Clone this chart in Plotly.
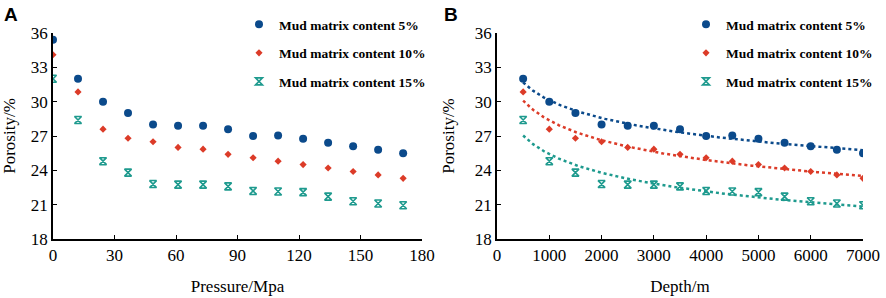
import numpy as np
import plotly.graph_objects as go

# ---- data ----
pressure = [0, 12.2, 24.4, 36.6, 48.8, 61.0, 73.2, 85.4, 97.6, 109.8, 122.0, 134.2, 146.4, 158.6, 170.8]
depth = [500, 1000, 1500, 2000, 2500, 3000, 3500, 4000, 4500, 5000, 5500, 6000, 6500, 7000]

a_5 = [35.4, 32.0, 30.0, 29.0, 28.0, 27.9, 27.9, 27.6, 27.0, 27.05, 26.75, 26.4, 26.1, 25.8, 25.5]
a_10 = [34.1, 30.85, 27.6, 26.8, 26.5, 26.0, 25.85, 25.4, 25.1, 24.8, 24.5, 24.2, 23.9, 23.6, 23.3]
a_15 = [32.0, 28.4, 24.8, 23.8, 22.8, 22.75, 22.75, 22.6, 22.2, 22.15, 22.1, 21.7, 21.3, 21.1, 20.95]

b_5 = a_5[1:]
b_10 = a_10[1:]
b_15 = a_15[1:]

names = ["Mud matrix content 5%", "Mud matrix content 10%", "Mud matrix content 15%"]
colors = ["#0b4a8b", "#dc3b28", "#1e9a8e"]
symbols = ["circle", "diamond", "hourglass-open"]
sizes = [8, 5.5, 7]

y_ticks = [18, 21, 24, 27, 30, 33, 36]
xa_ticks = [0, 30, 60, 90, 120, 150, 180]
xb_ticks = [0, 1000, 2000, 3000, 4000, 5000, 6000, 7000]

W, H = 886, 298
serif = "Liberation Serif"

fig = go.Figure()

def mk(i):
    m = dict(color=colors[i], size=sizes[i], symbol=symbols[i])
    if symbols[i].endswith("open"):
        m["line"] = dict(color=colors[i], width=1.6)
    return m

for i, ys in enumerate([a_5, a_10, a_15]):
    fig.add_trace(go.Scatter(x=pressure, y=ys, mode="markers", marker=mk(i),
                             name=names[i], legend="legend", legendgroup="a%d" % i,
                             xaxis="x", yaxis="y"))

dfine = np.linspace(min(depth), max(depth), 200)
for i, ys in enumerate([b_5, b_10, b_15]):
    fig.add_trace(go.Scatter(x=depth, y=ys, mode="markers", marker=mk(i),
                             name=names[i], legend="legend2", legendgroup="b%d" % i,
                             xaxis="x2", yaxis="y2"))
    k, c = np.polyfit(np.log(depth), ys, 1)
    fig.add_trace(go.Scatter(x=dfine, y=k * np.log(dfine) + c, mode="lines",
                             line=dict(color=colors[i], width=2.5, dash="dot"),
                             showlegend=False, hoverinfo="skip",
                             xaxis="x2", yaxis="y2"))

def px_x(p):
    return p / W

def px_y(p):
    return 1 - p / H

axis_common = dict(showline=True, linecolor="black", linewidth=1.5, ticks="inside",
                   ticklen=4, tickwidth=1.3, tickcolor="black", showgrid=False,
                   zeroline=False, mirror=False, automargin=False,
                   tickfont=dict(family=serif, size=17, color="black"))

title_font = dict(family=serif, size=17, color="black")
legend_font = dict(family=serif, size=13.5, color="black", weight="bold")

fig.update_layout(
    width=W, height=H, margin=dict(l=0, r=0, t=0, b=0, autoexpand=False),
    paper_bgcolor="white", plot_bgcolor="white",
    showlegend=True,
    font=dict(family=serif),
    xaxis=dict(domain=[px_x(53), px_x(422)], range=[0, 180], tickvals=xa_ticks,
               title=dict(text="Pressure/Mpa", font=title_font, standoff=16),
               anchor="y", **axis_common),
    yaxis=dict(domain=[px_y(239), px_y(33)], range=[18, 36], tickvals=y_ticks,
               title=dict(text="Porosity/%", font=title_font, standoff=29),
               anchor="x", **axis_common),
    xaxis2=dict(domain=[px_x(497), px_x(863)], range=[0, 7000], tickvals=xb_ticks,
                title=dict(text="Depth/m", font=title_font, standoff=16),
                anchor="y2", **axis_common),
    yaxis2=dict(domain=[px_y(239), px_y(33)], range=[18, 36], tickvals=y_ticks,
                title=dict(text="Porosity/%", font=title_font, standoff=16),
                anchor="x2", **axis_common),
    legend=dict(x=px_x(239), y=px_y(9), xanchor="left", yanchor="top",
                font=legend_font,
                bgcolor="rgba(0,0,0,0)", tracegroupgap=8, itemwidth=30),
    legend2=dict(x=px_x(686), y=px_y(9), xanchor="left", yanchor="top",
                 font=legend_font,
                 bgcolor="rgba(0,0,0,0)", tracegroupgap=8, itemwidth=30),
    annotations=[
        dict(text="<b>A</b>", x=px_x(2), y=px_y(2), xref="paper", yref="paper",
             xanchor="left", yanchor="top", showarrow=False,
             font=dict(family="Liberation Sans", size=19, color="black")),
        dict(text="<b>B</b>", x=px_x(442), y=px_y(2), xref="paper", yref="paper",
             xanchor="left", yanchor="top", showarrow=False,
             font=dict(family="Liberation Sans", size=19, color="black")),
    ],
)

fig.write_html("out.html", config={"displayModeBar": False},
               post_script="document.body.style.margin='0';document.body.style.padding='0';")
